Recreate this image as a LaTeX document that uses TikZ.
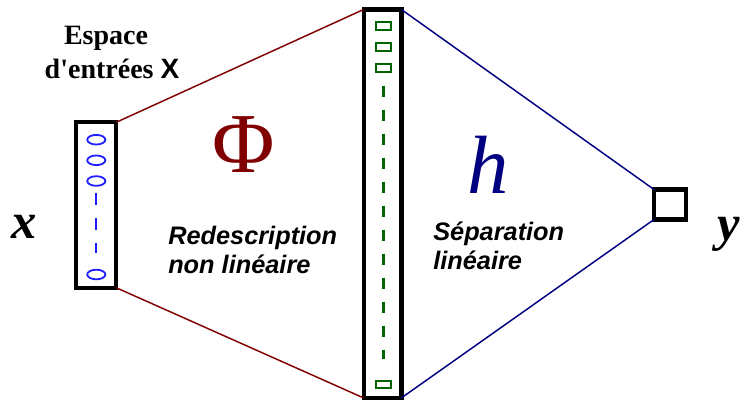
\documentclass[tikz,border=0pt]{standalone}
\usepackage{fontspec}
\setmainfont{Liberation Serif}
\setsansfont{Liberation Sans}
\usetikzlibrary{shapes.geometric}
\definecolor{phired}{RGB}{128,0,0}
\definecolor{hnavy}{RGB}{0,0,128}
\definecolor{unitblue}{RGB}{30,30,255}
\definecolor{unitgreen}{RGB}{0,100,0}
\begin{document}
\begin{tikzpicture}[x=0.75pt,y=-0.75pt,
    layer/.style={draw=black,line width=3.3pt,inner sep=0pt,outer sep=0pt},
    inunit/.style={draw=unitblue,ellipse,line width=1.35pt,minimum width=13.6pt,minimum height=7.2pt,inner sep=0pt},
    hidunit/.style={draw=unitgreen,rectangle,line width=1.35pt,minimum width=11.4pt,minimum height=5.8pt,inner sep=0pt},
    desctext/.style={font=\fontsize{19}{23}\selectfont\sffamily\bfseries\itshape,anchor=base west,inner sep=0pt},
    bigletter/.style={anchor=base,inner sep=0pt}]
    \useasboundingbox (0,0) rectangle (741,401);

    \node[layer,minimum width=30.4pt,minimum height=124.1pt] (entree) at (96,205) {};
    \node[layer,minimum width=28.2pt,minimum height=291.4pt] (cache) at (382.5,203.7) {};
    \node[layer,minimum width=24pt,minimum height=22.5pt] (sortie) at (670,204.5) {};

    \foreach \y [count=\i] in {139.7,160.3,181,274.5} {
        \node[inunit] (x\i) at (96.3,\y) {};
    }
    \draw[unitblue,line width=1.6pt,dash pattern=on 8.6pt off 10.1pt,shorten <=5pt,shorten >=11.5pt] (x3.south) -- (x4.north);

    \foreach \y [count=\i] in {26,47,68,384.5} {
        \node[hidunit] (z\i) at (383.5,\y) {};
    }
    \draw[unitgreen,line width=1.6pt,dash pattern=on 8.25pt off 9.75pt,shorten <=9.75pt,shorten >=15.5pt] (z3.south) -- (z4.north);

    \draw[phired,line width=1.1pt] (entree.north east) -- (cache.north west);
    \draw[phired,line width=1.1pt] (entree.south east) -- (cache.south west);
    \draw[hnavy,line width=1.1pt] (cache.north east) -- (sortie.north west);
    \draw[hnavy,line width=1.1pt] (cache.south east) -- (sortie.south west);

    \node[bigletter,font=\fontsize{21}{25}\selectfont\bfseries] (espace) at (106,44) {Espace};
    \node[bigletter,font=\fontsize{21}{25}\selectfont\bfseries] (entrees) at (112,78) {d\textquotesingle entrées \textsf{X}};

    \node[bigletter,font=\fontsize{38}{38}\selectfont\bfseries\itshape] (xin) at (24,238) {x};
    \node[bigletter,font=\fontsize{38}{38}\selectfont\bfseries\itshape] (yout) at (729,240) {y};
    \node[bigletter,phired,font=\fontsize{64}{64}\selectfont] (phi) at (243.5,172) {Φ};
    \node[bigletter,hnavy,font=\fontsize{62}{62}\selectfont\itshape] (hsep) at (488,193) {h};

    \node[desctext] (redesc) at (168,244) {Redescription};
    \node[desctext] (nonlin) at (168,273) {non linéaire};
    \node[desctext] (separ) at (433,240) {Séparation};
    \node[desctext] (lin) at (433,269) {linéaire};
\end{tikzpicture}
\end{document}
